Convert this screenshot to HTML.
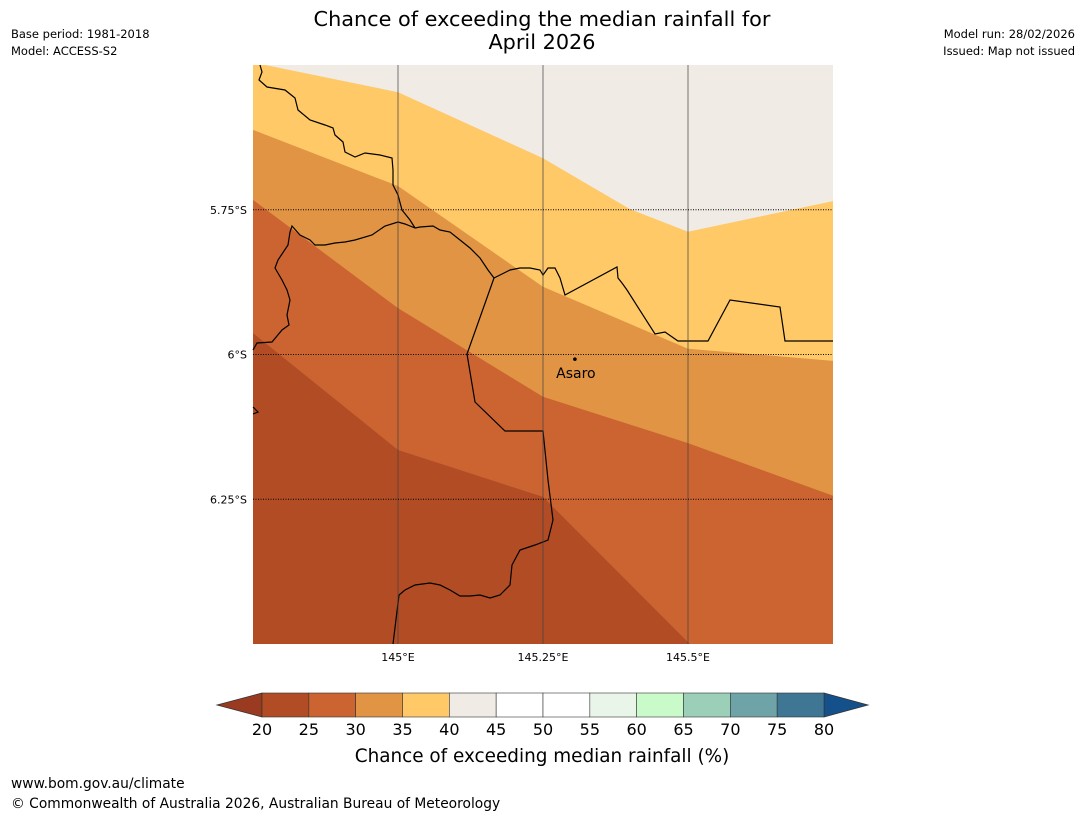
<!DOCTYPE html>
<html><head><meta charset="utf-8"><style>
body{margin:0;background:#fff;font-family:"Liberation Sans","DejaVu Sans",sans-serif;}
svg text{font-family:"DejaVu Sans","Liberation Sans",sans-serif;}
</style></head><body>
<svg width="1085" height="816" viewBox="0 0 1085 816">
<text x="542" y="26" font-size="20.8" text-anchor="middle">Chance of exceeding the median rainfall for</text>
<text x="542" y="49" font-size="20.8" text-anchor="middle">April 2026</text>
<text x="11" y="38" font-size="11.5">Base period: 1981-2018</text>
<text x="11" y="55" font-size="11.5">Model: ACCESS-S2</text>
<text x="1075" y="38" font-size="11.5" text-anchor="end">Model run: 28/02/2026</text>
<text x="1075" y="55" font-size="11.5" text-anchor="end">Issued: Map not issued</text>
<g id="map"></g>
<g id="cbar"></g>
<text x="542" y="762" font-size="18.4" text-anchor="middle">Chance of exceeding median rainfall (%)</text>
<text x="11" y="788" font-size="13.8">www.bom.gov.au/climate</text>
<text x="11" y="808" font-size="13.8">© Commonwealth of Australia 2026, Australian Bureau of Meteorology</text>
</svg>
<script>
// Contour band levels and colours
const levels = [20,25,30,35,40];
const bandColors = ['#b14c24','#cb6431','#e09444','#fec966','#f0ebe5'];
// Boundaries between bands (lon, lat), in order of increasing level
const boundary25 = [[144.75,-5.963],[145.0,-6.165],[145.25,-6.246],[145.503,-6.5]];
const boundary30 = [[144.75,-5.733],[145.0,-5.920],[145.25,-6.073],[145.5,-6.153],[145.75,-6.244]];
const boundary35 = [[144.75,-5.612],[145.0,-5.709],[145.25,-5.883],[145.5,-5.990],[145.75,-6.011]];
const boundary40 = [[144.771,-5.5],[145.0,-5.547],[145.25,-5.661],[145.40,-5.749],[145.5,-5.788],[145.75,-5.735]];
const lonTicks = [145.0,145.25,145.5];
const lonLabels = ['145°E','145.25°E','145.5°E'];
const latTicks = [-5.75,-6.0,-6.25];
const latLabels = ['5.75°S','6°S','6.25°S'];
const town = {name:'Asaro', lon:145.305, lat:-6.008};
const cbarTicks = [20,25,30,35,40,45,50,55,60,65,70,75,80];
const cbarColors = ['#b14c24','#cb6431','#e09444','#fec966','#f0ebe5','#ffffff','#ffffff','#eaf5e9','#c9fbca','#9ccfb8','#6ea4a8','#3e7694'];

const X0=253,X1=833,Y0=65,Y1=644,LON0=144.75,LON1=145.75,LAT0=-5.5,LAT1=-6.5;
function xs(lon){return X0+(lon-LON0)/(LON1-LON0)*(X1-X0);}
function ys(lat){return Y0+(lat-LAT0)/(LAT1-LAT0)*(Y1-Y0);}
const NS='http://www.w3.org/2000/svg';
function mk(tag,attrs,parent){const e=document.createElementNS(NS,tag);for(const k in attrs)e.setAttribute(k,attrs[k]);parent.appendChild(e);return e;}
const map=document.getElementById('map');
const base=mk('rect',{x:X0,y:Y0,width:X1-X0,height:Y1-Y0,fill:bandColors[0]},map);


const bounds=[boundary25,boundary30,boundary35,boundary40];
bounds.forEach((b,i)=>{
  let pts=b.map(p=>xs(p[0])+','+ys(p[1]));
  pts.push(xs(LON1)+','+ys(LAT1<b[b.length-1][1]?b[b.length-1][1]:LAT1));
  if(b[b.length-1][1]<=LAT1+1e-6) pts.push(xs(LON1)+','+ys(LAT1));
  pts.push(xs(LON1)+','+ys(LAT0));
  pts.push(xs(LON0)+','+ys(LAT0));
  const p=mk('polygon',{points:pts.join(' '),fill:bandColors[i+1]},map);
  
  
});
// borders (geographic outlines)
const borderPaths=[
'M260,65 L262,72 L259,80 L267,87 L285,90 L295,98 L298,110 L310,120 L325,125 L333,128 L335,135 L343,142 L345,152 L355,157 L365,153 L380,155 L392,158 L393,170 L393,185 L398,195 L402,210 L410,220 L415,228',
'M415,228 L420,227 L433,226 L440,230 L450,232 L460,240 L470,248 L480,258 L488,270 L494,278 L500,275 L510,270 L520,268 L530,268 L540,270 L543,275 L548,268 L555,268 L560,278 L565,295 L617,267 L618,278 L622,283 L627,290 L655,334 L665,332 L678,341 L708,341 L730,300 L780,307 L785,341 L833,341',
'M415,228 L405,224 L398,222 L385,226 L372,235 L355,240 L345,242 L335,243 L325,245 L315,245 L310,240 L300,235 L292,226 L290,232 L288,245 L278,260 L275,268 L282,280 L287,290 L290,300 L287,315 L289,325 L282,330 L272,342 L257,343 L253,350',
'M494,278 L467,354 L475,402 L505,431 L543,431 L548,480 L553,520 L548,540 L535,545 L520,550 L512,565 L510,585 L500,595 L490,598 L480,595 L470,596 L460,596 L450,590 L440,585 L430,583 L415,585 L405,590 L399,595 L393,644',
'M253,407 L258,412 L253,414'];
borderPaths.forEach((d,i)=>{
  const p=mk('path',{d:d,fill:'none',stroke:'#000','stroke-width':1.2},map);
  
  
});
lonTicks.forEach((v,i)=>{
  const l=mk('line',{x1:xs(v),x2:xs(v),y1:Y0,y2:Y1,stroke:'#444','stroke-opacity':0.6,'stroke-width':1.2},map);
  
  
  const t=mk('text',{x:xs(v),y:Y1+17,'font-size':11,'text-anchor':'middle'},map);t.textContent=lonLabels[i];
  
  
});
latTicks.forEach((v,i)=>{
  const l=mk('line',{x1:X0,x2:X1,y1:ys(v),y2:ys(v),stroke:'#000','stroke-width':1,'stroke-dasharray':'1,1.5'},map);
  
  
  const t=mk('text',{x:X0-6,y:ys(v)+4,'font-size':11,'text-anchor':'end'},map);t.textContent=latLabels[i];
  
  
});
const dot=mk('circle',{cx:xs(town.lon),cy:ys(town.lat),r:1.8,fill:'#000'},map);


const tl=mk('text',{x:xs(town.lon)+1,y:ys(town.lat)+19,'font-size':14,'text-anchor':'middle'},map);tl.textContent=town.name;


// colorbar
const cb=document.getElementById('cbar');
const CX0=262,CX1=824,CY0=693,CY1=717;
function cx(v){return CX0+(v-20)/60*(CX1-CX0);}
const lt=mk('polygon',{points:`${CX0},${CY0} ${CX0},${CY1} 217,${(CY0+CY1)/2}`,fill:'#9a3a20',stroke:'#333','stroke-width':0.8},cb);


const rt=mk('polygon',{points:`${CX1},${CY0} ${CX1},${CY1} 868,${(CY0+CY1)/2}`,fill:'#14508a',stroke:'#333','stroke-width':0.8},cb);


cbarColors.forEach((c,i)=>{
  const r=mk('rect',{x:cx(cbarTicks[i]),y:CY0,width:cx(cbarTicks[i+1])-cx(cbarTicks[i]),height:CY1-CY0,fill:c,stroke:'#333','stroke-width':0.6},cb);
  
  
});
cbarTicks.forEach(v=>{
  const t=mk('text',{x:cx(v),y:735,'font-size':16,'text-anchor':'middle'},cb);t.textContent=v;
  
  
});
</script>
</body></html>
